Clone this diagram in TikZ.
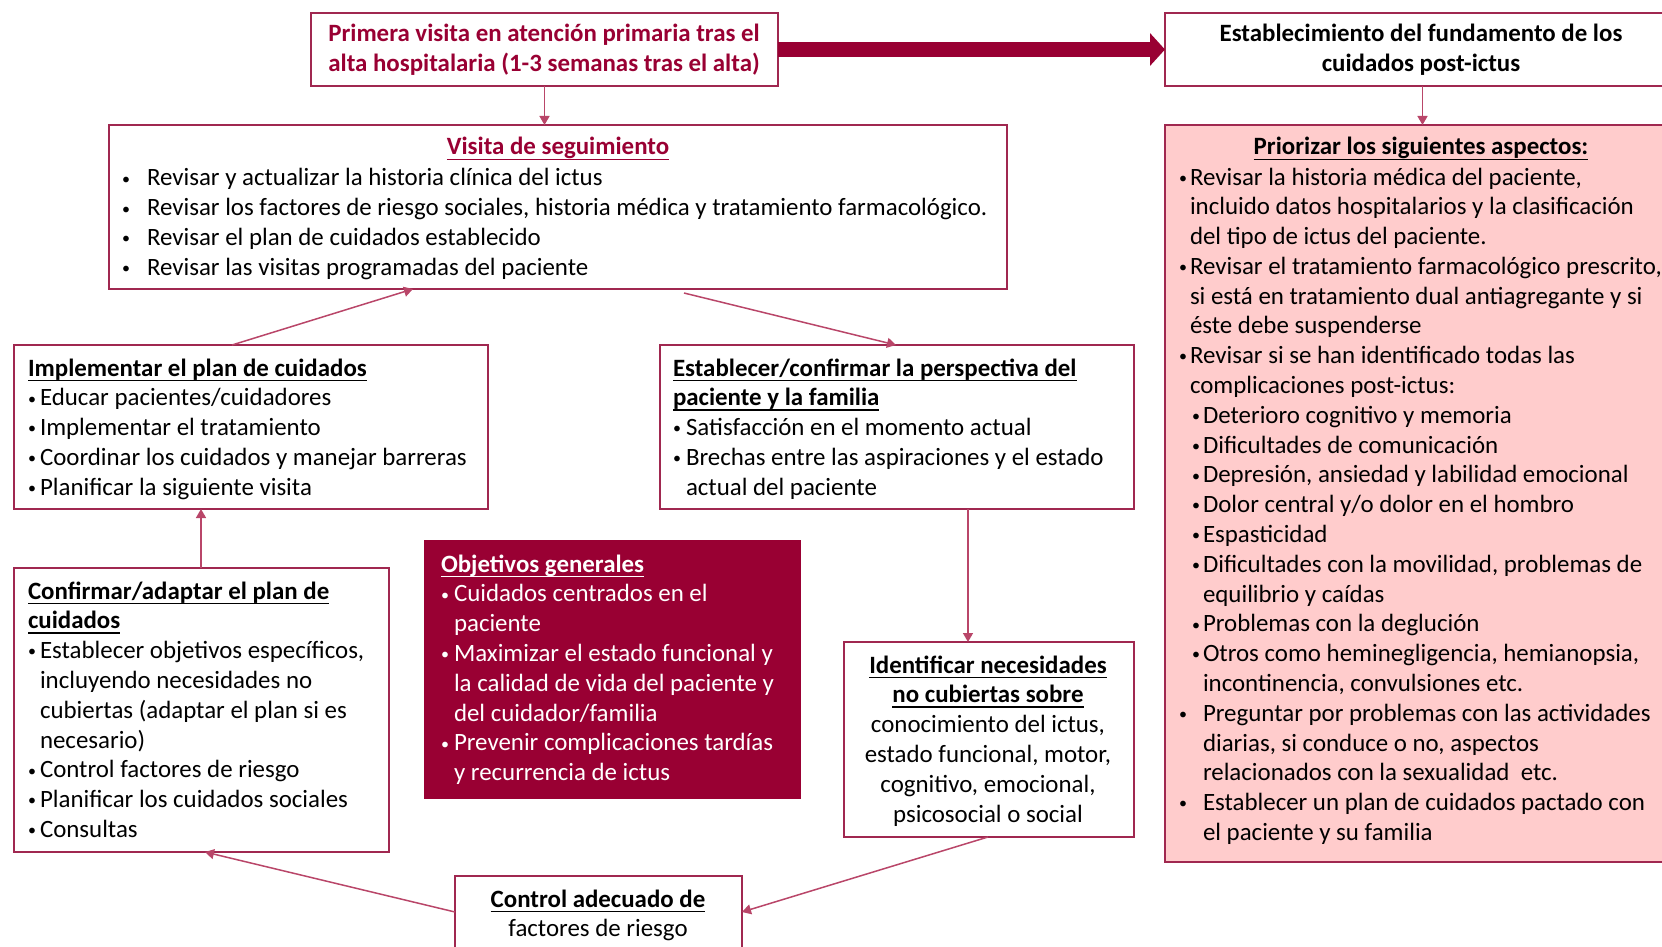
\documentclass[tikz,border=0pt]{standalone}
\usepackage{fontspec}
\setmainfont{Carlito}
\usetikzlibrary{arrows.meta,calc,fit}
\definecolor{burg}{HTML}{990033}
\definecolor{pinkf}{HTML}{FFCCCC}
\definecolor{boxc}{RGB}{160,40,80}
\definecolor{connc}{RGB}{185,70,105}
\newsavebox\myulbox
\newcommand\uln[1]{\sbox\myulbox{#1}\rlap{\rule[-2.4pt]{\wd\myulbox}{0.6pt}}\usebox\myulbox}
\newcommand\bul[1]{\makebox[#1][l]{\raisebox{0.9pt}{\fontsize{8pt}{8pt}\selectfont\textbullet}}}
\newcommand\hin[1]{\hspace*{#1}}
\newcommand\fs{12.45pt}
\newcommand\ptxt[2]{\parbox[t]{#1}{\fontsize{\fs}{14.9pt}\selectfont\lineskiplimit=-20pt\relax\lineskip=0pt\relax #2}}
\begin{document}
\begin{tikzpicture}[x=0.5pt,y=-0.5pt,
  box/.style={draw=boxc,line width=1pt,inner sep=0pt,outer sep=0pt},
  txt/.style={inner sep=0pt,outer sep=0pt},
  conn/.style={draw=connc,line width=0.75pt,-{Triangle[length=4.5pt,width=5pt]}},
  bigarrow/.style={draw=burg,line width=7.5pt,-{Triangle[length=7.5pt,width=16pt]}}]
\useasboundingbox (0,0) rectangle (1662,947);
\clip (0,0) rectangle (1662,947);
% boxes
\node[box,fit={(311,13)(778,86)}] (A) {};
\node[box,fit={(1165,13)(1680,86)}] (B) {};
\node[box,fill=pinkf,fit={(1165,125)(1680,862)}] (C) {};
\node[box,fit={(109,125)(1007,289)}] (D) {};
\node[box,fit={(14,345)(488,509)}] (E) {};
\node[box,fit={(660,345)(1134,509)}] (F) {};
\node[box,draw=burg,fill=burg,fit={(425,541)(800,798)}] (G) {};
\node[box,fit={(14,568)(389,852)}] (H) {};
\node[box,fit={(844,642)(1134,837)}] (I) {};
\node[box,fit={(455,876)(742,960)}] (J) {};
% texts
\node[txt,anchor=base,text=burg] (At) at (544,42) {\ptxt{250pt}{\centering\bfseries Primera visita en atención primaria tras el\\alta hospitalaria (1-3 semanas tras el alta)}};
\node[txt,anchor=base] (Bt) at (1421,42) {\ptxt{250pt}{\centering\bfseries Establecimiento del fundamento de los\\cuidados post-ictus}};
\node[txt,anchor=base] (Ct) at (1421,155) {\fontsize{\fs}{14.9pt}\selectfont\bfseries\uln{Priorizar los siguientes aspectos:}};
\node[txt,anchor=base west] (Cl) at (1179,185) {\ptxt{250pt}{\raggedright
\bul{5.5pt}Revisar la historia médica del paciente,\\
\hin{5.5pt}incluido datos hospitalarios y la clasificación\\
\hin{5.5pt}del tipo de ictus del paciente.\\
\bul{5.5pt}Revisar el tratamiento farmacológico prescrito,\\
\hin{5.5pt}si está en tratamiento dual antiagregante y si\\
\hin{5.5pt}éste debe suspenderse\\
\bul{5.5pt}Revisar si se han identificado todas las\\
\hin{5.5pt}complicaciones post-ictus:\\
\hin{6.5pt}\bul{5.5pt}Deterioro cognitivo y memoria\\
\hin{6.5pt}\bul{5.5pt}Dificultades de comunicación\\
\hin{6.5pt}\bul{5.5pt}Depresión, ansiedad y labilidad emocional\\
\hin{6.5pt}\bul{5.5pt}Dolor central y/o dolor en el hombro\\
\hin{6.5pt}\bul{5.5pt}Espasticidad\\
\hin{6.5pt}\bul{5.5pt}Dificultades con la movilidad, problemas de\\
\hin{12pt}equilibrio y caídas\\
\hin{6.5pt}\bul{5.5pt}Problemas con la deglución\\
\hin{6.5pt}\bul{5.5pt}Otros como heminegligencia, hemianopsia,\\
\hin{12pt}incontinencia, convulsiones etc.\\
\bul{12pt}Preguntar por problemas con las actividades\\
\hin{12pt}diarias, si conduce o no, aspectos\\
\hin{12pt}relacionados con la sexualidad\ \ etc.\\
\bul{12pt}Establecer un plan de cuidados pactado con\\
\hin{12pt}el paciente y su familia}};
\node[txt,anchor=base,text=burg] (Dh) at (558,155) {\fontsize{\fs}{14.9pt}\selectfont\bfseries\uln{Visita de seguimiento}};
\node[txt,anchor=base west] (Dl) at (122,186) {\ptxt{460pt}{\raggedright
\bul{12.5pt}Revisar y actualizar la historia clínica del ictus\\
\bul{12.5pt}Revisar los factores de riesgo sociales, historia médica y tratamiento farmacológico.\\
\bul{12.5pt}Revisar el plan de cuidados establecido\\
\bul{12.5pt}Revisar las visitas programadas del paciente}};
\node[txt,anchor=base west] (Et) at (28,376) {\ptxt{230pt}{\raggedright
\textbf{\uln{Implementar el plan de cuidados}}\\
\bul{6pt}Educar pacientes/cuidadores\\
\bul{6pt}Implementar el tratamiento\\
\bul{6pt}Coordinar los cuidados y manejar barreras\\
\bul{6pt}Planificar la siguiente visita}};
\node[txt,anchor=base west] (Ft) at (673,376) {\ptxt{230pt}{\raggedright
\textbf{\uln{Establecer/confirmar la perspectiva del}}\\
\textbf{\uln{paciente y la familia}}\\
\bul{6.5pt}Satisfacción en el momento actual\\
\bul{6.5pt}Brechas entre las aspiraciones y el estado\\
\hin{6.5pt}actual del paciente}};
\node[txt,anchor=base west,text=white] (Gt) at (441,572) {\ptxt{185pt}{\raggedright
\textbf{\uln{Objetivos generales}}\\
\bul{6.5pt}Cuidados centrados en el\\
\hin{6.5pt}paciente\\
\bul{6.5pt}Maximizar el estado funcional y\\
\hin{6.5pt}la calidad de vida del paciente y\\
\hin{6.5pt}del cuidador/familia\\
\bul{6.5pt}Prevenir complicaciones tardías\\
\hin{6.5pt}y recurrencia de ictus}};
\node[txt,anchor=base west] (Ht) at (28,599) {\ptxt{185pt}{\raggedright
\textbf{\uln{Confirmar/adaptar el plan de}}\\
\textbf{\uln{cuidados}}\\
\bul{6pt}Establecer objetivos específicos,\\
\hin{6pt}incluyendo necesidades no\\
\hin{6pt}cubiertas (adaptar el plan si es\\
\hin{6pt}necesario)\\
\bul{6pt}Control factores de riesgo\\
\bul{6pt}Planificar los cuidados sociales\\
\bul{6pt}Consultas}};
\node[txt,anchor=base] (It) at (988,673) {\ptxt{145pt}{\centering
\textbf{\uln{Identificar necesidades}}\\
\textbf{\uln{no cubiertas sobre}}\\
conocimiento del ictus,\\
estado funcional, motor,\\
cognitivo, emocional,\\
psicosocial o social}};
\node[txt,anchor=base] (Jt) at (598,907) {\ptxt{145pt}{\centering
\textbf{\uln{Control adecuado de}}\\
factores de riesgo}};
% connectors
\draw[bigarrow] (A.east) -- (B.west);
\draw[conn] (A.south) -- (A.south |- D.north);
\draw[conn] (B.south) -- (B.south |- C.north);
\draw[conn] ($(E.north west)+(218,0)$) -- ($(D.south west)+(304,0)$);
\draw[conn] ($(D.south west)+(575,4)$) -- ($(F.north west)+(236,0)$);
\coordinate (f1) at ($(F.south west)+(308,0)$);
\draw[conn] (f1) -- (f1 |- I.north);
\draw[conn] ($(I.south west)+(144,0)$) -- ($(J.north east)+(0,36)$);
\draw[conn] ($(J.north west)+(0,36)$) -- ($(H.south west)+(191,0)$);
\coordinate (h1) at ($(H.north west)+(187,0)$);
\draw[conn] (h1) -- (h1 |- E.south);
\end{tikzpicture}
\end{document}
